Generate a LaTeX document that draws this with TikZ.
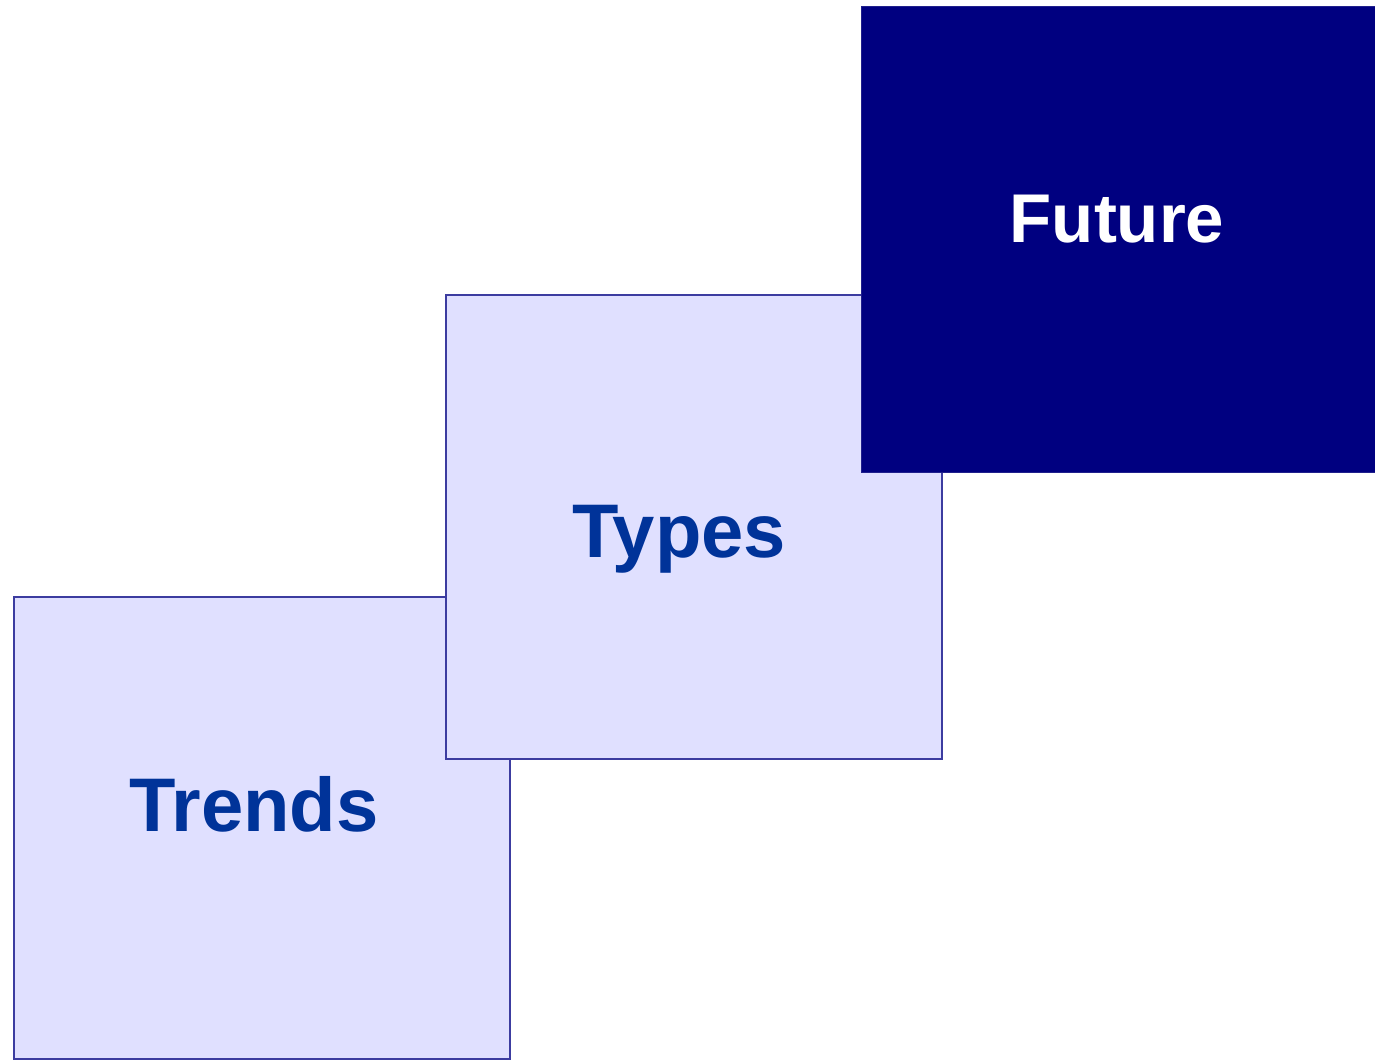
\documentclass[tikz,border=0pt]{standalone}
\usepackage{fontspec}
\setmainfont{Liberation Sans}
\definecolor{lav}{HTML}{E0E0FF}
\definecolor{lavline}{HTML}{3C3CA0}
\definecolor{navy}{HTML}{000080}
\definecolor{navyline}{HTML}{20208C}
\definecolor{txtblue}{HTML}{003399}
\begin{document}
\begin{tikzpicture}[x=1pt,y=-1pt,
  lightbox/.style={rectangle,inner sep=0pt,fill=lav,draw=lavline,line width=2pt},
  darkbox/.style={rectangle,inner sep=0pt,fill=navy,draw=navyline,line width=1pt},
  lbl/.style={anchor=base,inner sep=0pt,font=\fontsize{76}{90}\selectfont\bfseries},
  lblsmall/.style={anchor=base,inner sep=0pt,font=\fontsize{69}{82}\selectfont\bfseries}]
\useasboundingbox (0,0) rectangle (1375,1061);
\node[lightbox,minimum width=496pt,minimum height=462pt] (trends) at (262,828) {};
\node[lightbox,minimum width=496pt,minimum height=464pt] (types) at (694,527) {};
\node[darkbox,minimum width=514pt,minimum height=466pt] (future) at (1118,239) {};
\node[lbl,text=txtblue] (ttrends) at (254,831) {Trends};
\node[lbl,text=txtblue] (ttypes) at (679,557) {Types};
\node[lblsmall,text=white] (tfuture) at (1117,242) {Future};
\end{tikzpicture}
\end{document}
